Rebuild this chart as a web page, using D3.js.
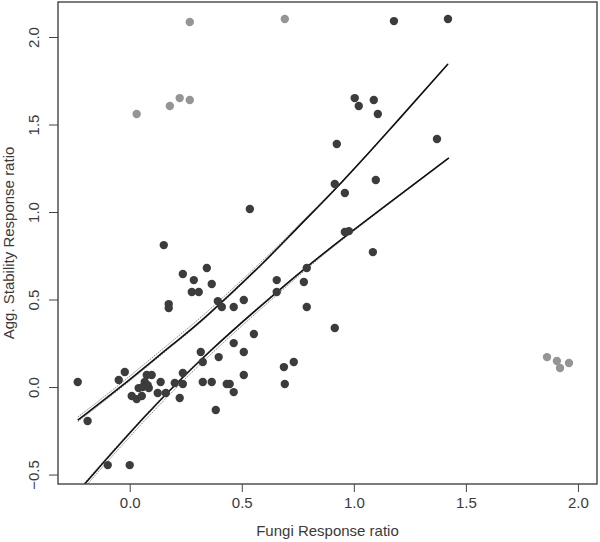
<!DOCTYPE html>
<html>
<head>
<meta charset="utf-8">
<script src="https://cdnjs.cloudflare.com/ajax/libs/d3/7.8.5/d3.min.js"></script>
<style>
body { margin: 0; background: #fff; }
text { font-family: "Liberation Sans", Arial, sans-serif; fill: #3a3a3a; }
</style>
</head>
<body>
<div id="chart"></div>
<script>
// points used in the fit (dark)
var fungiRR = [1.179, 1.42, 1.004, 1.022, 1.089, 1.107, 0.924, 1.371, 0.915, 0.96,
    1.098, 0.96, 0.978, 1.085, 0.79, 0.777, 0.79, 0.915, 0.536, 0.152,
    0.237, 0.344, 0.286, 0.277, 0.308, 0.366, 0.656, 0.656, 0.393, 0.411,
    0.464, 0.509, 0.174, 0.174, 0.554, 0.464, 0.509, 0.317, 0.397, 0.326,
    0.509, 0.688, 0.732, 0.692, 0.326, 0.366, 0.433, 0.446, 0.464, 0.384,
    0.237, 0.237, 0.223, 0.201, 0.138, 0.125, 0.161, -0.232, -0.188, -0.098,
    0.0, -0.049, -0.022, 0.009, 0.031, 0.054, 0.04, 0.076, 0.098, 0.067,
    0.08, 0.058, 0.085];
var aggRR = [2.091, 2.103, 1.651, 1.606, 1.64, 1.56, 1.389, 1.417, 1.16, 1.109,
    1.183, 0.886, 0.891, 0.771, 0.68, 0.6, 0.457, 0.337, 1.017, 0.811,
    0.646, 0.68, 0.611, 0.543, 0.543, 0.589, 0.611, 0.543, 0.491, 0.457,
    0.457, 0.497, 0.474, 0.451, 0.303, 0.251, 0.2, 0.2, 0.171, 0.143,
    0.069, 0.114, 0.143, 0.017, 0.029, 0.029, 0.017, 0.017, -0.029, -0.131,
    0.08, 0.017, -0.063, 0.023, 0.029, -0.034, -0.034, 0.029, -0.194, -0.446,
    -0.446, 0.04, 0.086, -0.051, -0.069, -0.051, -0.006, 0.069, 0.069, 0.029,
    0.011, 0.0, -0.006];

// points left out (grey)
var outFungiRR = [0.031, 0.179, 0.223, 0.268, 0.268, 0.692, 1.862, 1.906, 1.92, 1.96];
var outAggRR = [1.56, 1.606, 1.651, 1.64, 2.086, 2.103, 0.171, 0.149, 0.109, 0.137];

// upper fitted curve and its band
var upperX = [-0.232, -0.045, 0.214, 0.3125, 0.612, 0.737, 0.929, 1.147, 1.42];
var upperY = [-0.189, -0.006, 0.269, 0.366, 0.726, 0.897, 1.143, 1.451, 1.846];
var upperHi = [-0.172, 0.012, 0.29, 0.388, 0.742, 0.905, 1.148, 1.453, 1.848];
var upperLo = [-0.198, -0.014, 0.262, 0.36, 0.72, 0.892, 1.139, 1.448, 1.843];

// lower fitted curve and its band
var lowerX = [-0.201, 0.076, 0.348, 0.656, 0.79, 0.9375, 1.424];
var lowerY = [-0.554, -0.149, 0.2, 0.543, 0.686, 0.84, 1.309];
var lowerHi = [-0.547, -0.142, 0.205, 0.547, 0.689, 0.842, 1.311];
var lowerLo = [-0.572, -0.172, 0.178, 0.527, 0.676, 0.834, 1.306];

var xTicks = [0, 0.5, 1, 1.5, 2];
var yTicks = [-0.5, 0, 0.5, 1, 1.5, 2];

var width = 600, height = 542;
var margin = { top: 2, right: 3, bottom: 58, left: 58 };

var svg = d3.select("#chart").append("svg")
    .attr("width", width)
    .attr("height", height);

var xScale = d3.scaleLinear().domain([-0.32, 2.085])
    .range([margin.left, width - margin.right]);
var yScale = d3.scaleLinear().domain([-0.554, 2.2])
    .range([height - margin.bottom, margin.top]);

svg.append("clipPath").attr("id", "plotClip")
    .append("rect")
    .attr("x", margin.left).attr("y", margin.top)
    .attr("width", width - margin.left - margin.right)
    .attr("height", height - margin.top - margin.bottom);

var line = d3.line()
    .x(function (d) { return xScale(d[0]); })
    .y(function (d) { return yScale(d[1]); })
    .curve(d3.curveBasis);

var plot = svg.append("g").attr("clip-path", "url(#plotClip)");

// bands first, dotted grey
[[upperX, upperHi], [upperX, upperLo], [lowerX, lowerHi], [lowerX, lowerLo]].forEach(function (b) {
    plot.append("path")
        .datum(d3.zip(b[0], b[1]))
        .attr("d", line)
        .attr("fill", "none")
        .attr("stroke", "#777")
        .attr("stroke-width", 0.9)
        .attr("stroke-dasharray", "1.5,1");
});

[[upperX, upperY], [lowerX, lowerY]].forEach(function (c) {
    plot.append("path")
        .datum(d3.zip(c[0], c[1]))
        .attr("d", line)
        .attr("fill", "none")
        .attr("stroke", "#111")
        .attr("stroke-width", 1.6);
});

// grey points
plot.selectAll(".outPt").data(d3.zip(outFungiRR, outAggRR))
    .enter().append("circle")
    .attr("class", "outPt")
    .attr("cx", function (d) { return xScale(d[0]); })
    .attr("cy", function (d) { return yScale(d[1]); })
    .attr("r", 4.2)
    .attr("fill", "#959595");

// dark points
plot.selectAll(".pt").data(d3.zip(fungiRR, aggRR))
    .enter().append("circle")
    .attr("class", "pt")
    .attr("cx", function (d) { return xScale(d[0]); })
    .attr("cy", function (d) { return yScale(d[1]); })
    .attr("r", 4.2)
    .attr("fill", "#3c3c3c");

// box
svg.append("rect")
    .attr("x", margin.left).attr("y", margin.top)
    .attr("width", width - margin.left - margin.right)
    .attr("height", height - margin.top - margin.bottom)
    .attr("fill", "none")
    .attr("stroke", "#444")
    .attr("stroke-width", 1.4);

// x axis
var xAxis = svg.append("g")
    .attr("transform", "translate(0," + (height - margin.bottom) + ")")
    .call(d3.axisBottom(xScale).tickValues(xTicks).tickFormat(d3.format(".1f"))
        .tickSize(8).tickSizeOuter(0).tickPadding(5));
xAxis.select(".domain").remove();
xAxis.selectAll("line").attr("stroke", "#444");
xAxis.selectAll("text").attr("font-size", 15).attr("font-family", null).attr("fill", null);

// y axis, labels rotated like R
var yAxis = svg.append("g")
    .attr("transform", "translate(" + margin.left + ",0)")
    .call(d3.axisLeft(yScale).tickValues(yTicks).tickFormat(d3.format(".1f"))
        .tickSize(9).tickSizeOuter(0));
yAxis.select(".domain").remove();
yAxis.selectAll("line").attr("stroke", "#444");
yAxis.selectAll("text")
    .attr("x", 0).attr("dy", 0)
    .attr("text-anchor", "middle")
    .attr("transform", "translate(-19,0) rotate(-90)")
    .attr("font-size", 15).attr("font-family", null).attr("fill", null);

// titles
svg.append("text")
    .attr("x", (margin.left + width - margin.right) / 2)
    .attr("y", 536)
    .attr("text-anchor", "middle")
    .attr("font-size", 15)
    .text("Fungi Response ratio");

svg.append("text")
    .attr("transform", "translate(14," + ((margin.top + height - margin.bottom) / 2) + ") rotate(-90)")
    .attr("text-anchor", "middle")
    .attr("font-size", 15)
    .text("Agg. Stability Response ratio");
</script>
</body>
</html>
